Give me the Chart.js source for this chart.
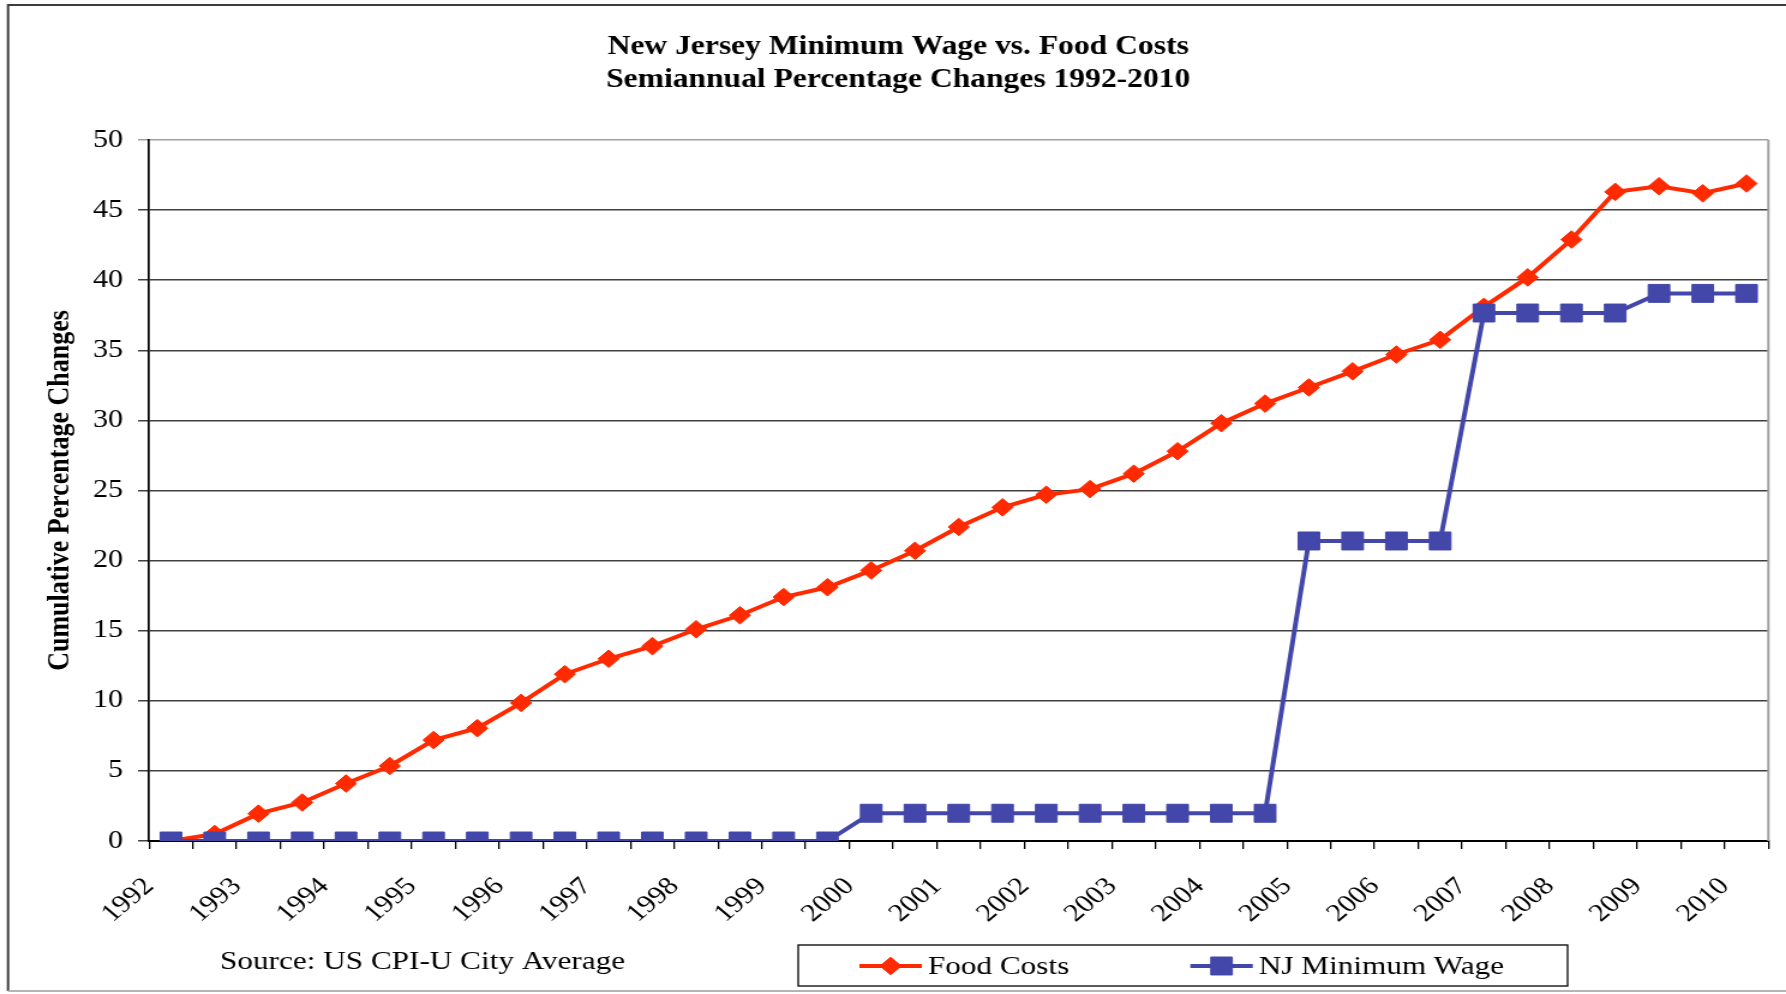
<!DOCTYPE html>
<html>
<head>
<meta charset="utf-8">
<title>New Jersey Minimum Wage vs. Food Costs</title>
<script src="https://cdn.jsdelivr.net/npm/chart.js@4.4.1/dist/chart.umd.min.js"></script>
<style>
  html, body { margin: 0; padding: 0; background: #fff; overflow: hidden; }
  /* the original picture is stretched sideways (about 1.2x), so draw narrower and scale */
  #wrap { position: absolute; left: 0; top: 0; width: 1488px; height: 994px; transform: scaleX(1.2003); transform-origin: 0 0; }
</style>
</head>
<body>
<div id="wrap"><canvas id="myChart"></canvas></div>
<script>
const years = ['1992', '1993', '1994', '1995', '1996', '1997', '1998', '1999', '2000', '2001',
               '2002', '2003', '2004', '2005', '2006', '2007', '2008', '2009', '2010'];
// semiannual periods, 1992 H1 .. 2010 H1
const periods = years.flatMap(y => [y + ' H1', y + ' H2']).slice(0, 37);

const foodCosts = [0, 0.5, 1.95, 2.75, 4.1, 5.35, 7.2, 8.05, 9.85, 11.9,
                   13.0, 13.9, 15.1, 16.1, 17.4, 18.1, 19.3, 20.7, 22.4, 23.8,
                   24.7, 25.1, 26.2, 27.8, 29.8, 31.2, 32.35, 33.5, 34.7, 35.75,
                   38.1, 40.2, 42.9, 46.3, 46.7, 46.2, 46.9];
const njMinimumWage = [0, 0, 0, 0, 0, 0, 0, 0, 0, 0,
                       0, 0, 0, 0, 0, 0, 1.98, 1.98, 1.98, 1.98,
                       1.98, 1.98, 1.98, 1.98, 1.98, 1.98, 21.4, 21.4, 21.4, 21.4,
                       37.66, 37.66, 37.66, 37.66, 39.06, 39.06, 39.06];

const yMin = 0, yMax = 50, yStep = 5;
const chartTitle = ['New Jersey Minimum Wage vs. Food Costs', 'Semiannual Percentage Changes 1992-2010'];
const yAxisTitle = 'Cumulative Percentage Changes';
const sourceNote = 'Source: US CPI-U City Average';

const serif = "'Liberation Serif', 'Times New Roman', serif";
const RED = '#ff2a00';
const BLUE = '#4347a9';

// frame, right edge of plot, source note and boxed legend
const excelBits = {
    id: 'excelBits',
    beforeDraw(chart) {
        const ctx = chart.ctx;
        ctx.save();
        ctx.fillStyle = '#fff';
        ctx.fillRect(0, 0, chart.width, chart.height);
        ctx.lineWidth = 2;
        ctx.strokeStyle = '#3c3c3c';
        ctx.beginPath();
        ctx.moveTo(6.7, 991);
        ctx.lineTo(6.7, 5);
        ctx.lineTo(chart.width, 5);
        ctx.stroke();
        ctx.strokeStyle = '#b4b4b4';
        ctx.beginPath();
        ctx.moveTo(6.7, 991);
        ctx.lineTo(chart.width, 991);
        ctx.stroke();
        ctx.restore();
    },
    beforeDatasetsDraw(chart) {
        const {ctx, chartArea} = chart;
        ctx.save();
        ctx.strokeStyle = '#a0a0a0';
        ctx.lineWidth = 2;
        ctx.beginPath();
        ctx.moveTo(chartArea.right, chartArea.top);
        ctx.lineTo(chartArea.right, chartArea.bottom);
        ctx.stroke();
        ctx.restore();
    },
    afterDraw(chart) {
        const ctx = chart.ctx;
        ctx.save();
        ctx.fillStyle = '#000';
        ctx.font = '26px ' + serif;
        ctx.textBaseline = 'middle';
        ctx.textAlign = 'left';
        ctx.fillText(sourceNote, 183.3, 962);

        ctx.strokeStyle = '#000';
        ctx.lineWidth = 1.3;
        ctx.strokeRect(665, 945, 641, 41);

        const itemX = [716, 991.7];
        chart.data.datasets.forEach((ds, i) => {
            const x0 = itemX[i], y = 966;
            ctx.strokeStyle = ds.borderColor;
            ctx.fillStyle = ds.borderColor;
            ctx.lineWidth = 4;
            ctx.beginPath();
            ctx.moveTo(x0, y);
            ctx.lineTo(x0 + 52, y);
            ctx.stroke();
            ctx.lineWidth = 1;
            Chart.helpers.drawPoint(ctx, {pointStyle: ds.pointStyle, radius: ds.pointRadius, borderWidth: 1, rotation: 0}, x0 + 26, y);
            ctx.fillStyle = '#000';
            ctx.fillText(ds.label, x0 + 57, y + 1);
        });
        ctx.restore();
    }
};

const myChartRef = document.getElementById('myChart').getContext('2d');

new Chart(myChartRef, {
    type: 'line',
    data: {
        labels: periods,
        datasets: [
            {
                label: 'Food Costs',
                data: foodCosts,
                borderColor: RED,
                backgroundColor: RED,
                borderWidth: 4,
                pointStyle: 'rectRot',
                pointRadius: 8.8,
                pointBorderWidth: 1,
                pointBackgroundColor: RED,
                pointBorderColor: RED,
                tension: 0,
                order: 2
            },
            {
                label: 'NJ Minimum Wage',
                data: njMinimumWage,
                borderColor: BLUE,
                backgroundColor: BLUE,
                borderWidth: 4,
                pointStyle: 'rect',
                pointRadius: 12.7,
                pointBorderWidth: 1,
                pointBackgroundColor: BLUE,
                pointBorderColor: BLUE,
                tension: 0,
                order: 1
            }
        ]
    },
    options: {
        responsive: true,
        maintainAspectRatio: false,
        animation: false,
        layout: { padding: { top: 31, left: 23.3, right: 14.7, bottom: 0 } },
        plugins: {
            legend: { display: false },
            tooltip: { enabled: false },
            title: {
                display: true,
                text: chartTitle,
                color: '#000',
                font: { family: serif, size: 26.3, weight: 'bold', lineHeight: 1.255 },
                padding: { top: 0, bottom: 43 }
            }
        },
        scales: {
            x: {
                type: 'category',
                offset: true,
                grid: { display: true, drawOnChartArea: false, drawTicks: true, tickLength: 8, color: '#000', lineWidth: 1.3, offset: true },
                border: { display: true, color: '#000', width: 2 },
                ticks: {
                    autoSkip: false,
                    minRotation: 45,
                    maxRotation: 45,
                    padding: 23,
                    labelOffset: -18,
                    color: '#000',
                    font: { family: serif, size: 25 },
                    callback: (v, i) => i % 2 === 0 ? years[i / 2] : ''
                },
                afterFit: s => {
                    s.height = 153;
                    s.paddingLeft = 0;
                    s.paddingRight = 0;
                }
            },
            y: {
                min: yMin,
                max: yMax,
                ticks: { stepSize: yStep, padding: 12.5, color: '#000', font: { family: serif, size: 25 } },
                grid: {
                    color: c => c.tick && c.tick.value === yMax ? '#a0a0a0' : '#404040',
                    lineWidth: 1.5,
                    tickLength: 9.2,
                    drawTicks: true
                },
                border: { display: true, color: '#000', width: 1.7 },
                title: {
                    display: true,
                    text: yAxisTitle,
                    color: '#000',
                    font: { family: serif, size: 26, weight: 'bold' },
                    padding: { top: 11, bottom: 0 }
                },
                afterFit: s => { s.width = 100.9; }
            }
        }
    },
    plugins: [excelBits]
});
</script>
</body>
</html>
